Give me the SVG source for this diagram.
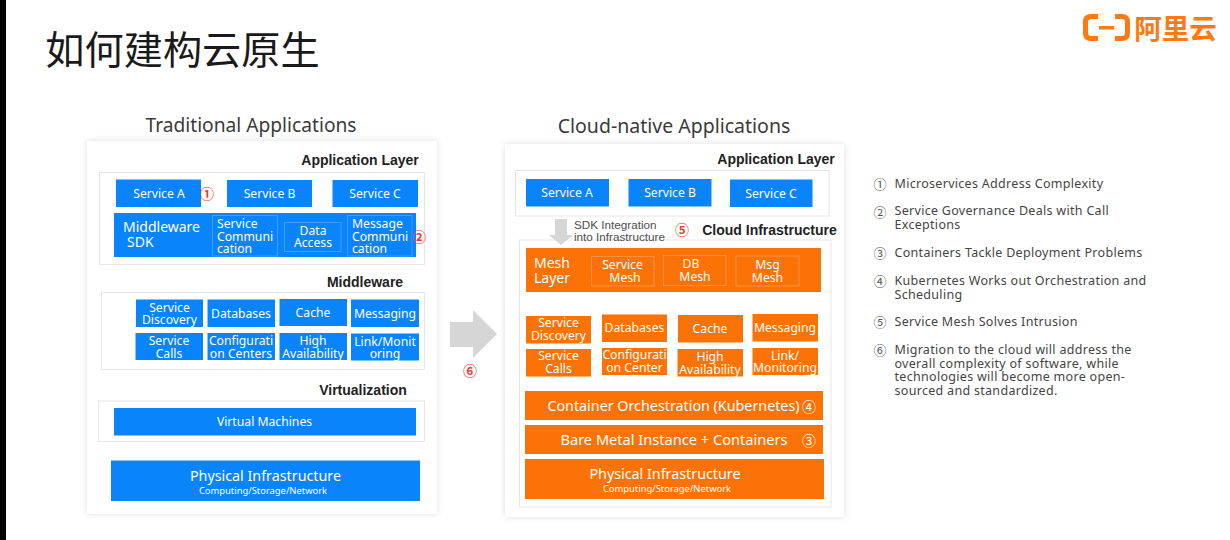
<svg xmlns="http://www.w3.org/2000/svg" width="1230" height="540" viewBox="0 0 1230 540">
<style>
text{font-family:"Noto Sans","Noto Sans CJK SC",sans-serif;text-anchor:middle;fill:#fff;font-size:12.2px}
.st{text-anchor:start}
.card{fill:#fff;filter:url(#sh)}
.frame{fill:#fff;stroke:#e6e6e6;stroke-width:1}
.b{fill:#0a84fb}
.o{fill:#fb7306}
.in{fill:none;stroke:#ffffff;stroke-opacity:.22;stroke-width:1}
.h{font-size:19.2px;fill:#3a3a3a}
.lab{font-family:"Liberation Sans",sans-serif;font-weight:700;font-size:14px;fill:#222}
.big{font-size:14px}
.wide{font-size:14.3px}
.sm{font-size:9.4px}
.sdk{text-anchor:start;fill:#4d4d4d;font-family:"Liberation Sans",sans-serif;font-size:11.7px}
.note text{text-anchor:start;font-size:12.5px;letter-spacing:.3px;fill:#444}
.note text.num{text-anchor:middle;letter-spacing:0;font-size:13px;fill:#555}
.num{font-family:"Noto Sans CJK SC",sans-serif;font-size:14px}
.red{fill:#e8412f;font-weight:700}
.arrow{fill:#d6d6d6}
.logo{fill:none;stroke:#fb7a14;stroke-width:5;stroke-linejoin:round}
</style>
<defs>
<filter id="sh" x="-5%" y="-5%" width="110%" height="110%"><feDropShadow dx="0" dy="0" stdDeviation="3" flood-color="#000" flood-opacity=".13"/></filter>
</defs>
<rect width="1230" height="540" fill="#fff"/>
<rect x="0" y="0" width="6" height="540" fill="#000"/>
<text id="title" x="182.500" y="64" style="font-family:'Noto Sans CJK SC',sans-serif;font-size:39.200px;fill:#1a1a1a">如何建构云原生</text>
<g id="logo">
<path class="logo" d="M1098 16.500H1091Q1085.500 16.500 1085.500 22V33Q1085.500 38.500 1091 38.500H1098M1115 16.500H1122Q1127.500 16.500 1127.500 22V33Q1127.500 38.500 1122 38.500H1115"/>
<rect x="1099" y="26" width="15" height="3.500" fill="#fb7a14"/>
<text x="1175.500" y="38.500" style="font-family:'Noto Sans CJK SC',sans-serif;font-size:27.500px;font-weight:700;fill:#fb7a14">阿里云</text>
</g>

<g id="traditional">
<text class="h" x="251" y="132">Traditional Applications</text>
<rect class="card" x="87" y="141" width="350" height="373"/>
<g id="t-app-layer">
<text class="lab" x="360" y="165">Application Layer</text>
<rect class="frame" x="99.500" y="172.500" width="325" height="92"/>
</g>
<g id="t-service-a"><rect class="b" x="116" y="179.500" width="85" height="27.500"/><text x="159" y="197.500">Service A</text></g>
<g id="t-service-b"><rect class="b" x="227" y="180" width="85" height="27"/><text x="269.500" y="197.500">Service B</text></g>
<g id="t-service-c"><rect class="b" x="332.500" y="180" width="85.500" height="27"/><text x="375" y="197.500">Service C</text></g>
<g id="t-sdk">
<rect class="b" x="114" y="213" width="302" height="44"/>
<text class="big st" x="123"><tspan x="123" y="232">Middleware</tspan><tspan x="127" y="247">SDK</tspan></text>
<rect class="in" x="212.500" y="215.500" width="65" height="40.500"/>
<text class="st"><tspan x="217" y="228">Service</tspan><tspan x="217" y="240.500">Communi</tspan><tspan x="217" y="253">cation</tspan></text>
<rect class="in" x="284.500" y="222.500" width="56.500" height="29"/>
<text><tspan x="313" y="234.500">Data</tspan><tspan x="313" y="247">Access</tspan></text>
<rect class="in" x="347.500" y="215.500" width="64.500" height="40.500"/>
<text class="st"><tspan x="352" y="228">Message</tspan><tspan x="352" y="240.500">Communi</tspan><tspan x="352" y="253">cation</tspan></text>
</g>
<text class="num red" x="207" y="199">①</text>
<text class="num red" x="419" y="241.500">②</text>
<g id="t-middleware">
<text class="lab" x="365" y="287">Middleware</text>
<rect class="frame" x="101.500" y="292.500" width="323" height="77"/>
</g>
<g id="t-discovery"><rect class="b" x="136" y="299.500" width="67" height="27.500"/><text><tspan x="169.500" y="311.500">Service</tspan><tspan x="169.500" y="323.500">Discovery</tspan></text></g>
<g id="t-databases"><rect class="b" x="207.500" y="299.500" width="67.500" height="27.500"/><text x="241" y="317.500">Databases</text></g>
<g id="t-cache"><rect class="b" x="279.500" y="299" width="67.500" height="27"/><text x="313" y="316.500">Cache</text></g>
<g id="t-messaging"><rect class="b" x="351" y="299.500" width="68" height="27.500"/><text x="385" y="317.500">Messaging</text></g>
<g id="t-calls"><rect class="b" x="135.500" y="333" width="67.500" height="27"/><text><tspan x="169" y="345">Service</tspan><tspan x="169" y="357.500">Calls</tspan></text></g>
<g id="t-config"><rect class="b" x="207.500" y="333" width="67.500" height="27"/><text><tspan x="241" y="345">Configurati</tspan><tspan x="241" y="357.500">on Centers</tspan></text></g>
<g id="t-ha"><rect class="b" x="279.500" y="333" width="67.500" height="27"/><text><tspan x="313" y="345">High</tspan><tspan x="313" y="357.500">Availability</tspan></text></g>
<g id="t-link"><rect class="b" x="351" y="333.500" width="68" height="27"/><text><tspan x="385" y="345.500">Link/Monit</tspan><tspan x="385" y="358">oring</tspan></text></g>
<g id="t-virtualization">
<text class="lab" x="363" y="394.500">Virtualization</text>
<rect class="frame" x="98.500" y="401" width="326" height="40.500"/>
</g>
<g id="t-vm"><rect class="b" x="114" y="408" width="302" height="27.500"/><text x="264.500" y="426">Virtual Machines</text></g>
<g id="t-physical"><rect class="b" x="111" y="460.500" width="309" height="40.500"/><text class="wide" x="265.500" y="480.500">Physical Infrastructure</text><text class="sm" x="263" y="494">Computing/Storage/Network</text></g>
</g>

<text class="num red" x="470" y="375.500">⑥</text>

<g id="cloud-native">
<text class="h" x="674" y="133" style="font-size:19.500px">Cloud-native Applications</text>
<rect class="card" x="505" y="144" width="339" height="373"/>
<g id="c-app-layer">
<text class="lab" x="776" y="163.500">Application Layer</text>
<rect class="frame" x="515.500" y="170.500" width="313.500" height="45.500"/>
</g>
<g id="c-service-a"><rect class="b" x="526" y="179" width="83" height="27.500"/><text x="567" y="197">Service A</text></g>
<g id="c-service-b"><rect class="b" x="628.500" y="179" width="83" height="27.500"/><text x="670" y="197">Service B</text></g>
<g id="c-service-c"><rect class="b" x="730" y="179.500" width="82.500" height="27.500"/><text x="771" y="197.500">Service C</text></g>
<g id="c-infra-frame">
<rect class="frame" x="519.500" y="240" width="311.500" height="267"/>
</g>
<text class="sdk"><tspan x="574" y="228.500">SDK Integration</tspan><tspan x="574" y="241">into Infrastructure</tspan></text>
<text class="num red" x="682" y="235">⑤</text>
<text class="lab" x="769.500" y="235">Cloud Infrastructure</text>
<g id="c-mesh">
<rect class="o" x="526" y="248" width="295" height="44"/>
<text class="big st"><tspan x="534" y="268">Mesh</tspan><tspan x="534" y="283">Layer</tspan></text>
<rect class="in" x="591.500" y="256.500" width="62.500" height="29.500"/><text><tspan x="622.500" y="269">Service</tspan><tspan x="625" y="281.500">Mesh</tspan></text>
<rect class="in" x="663.500" y="255.500" width="62.500" height="30"/><text><tspan x="691" y="268">DB</tspan><tspan x="695" y="280.500">Mesh</tspan></text>
<rect class="in" x="736" y="256" width="63" height="30"/><text><tspan x="767.500" y="269">Msg</tspan><tspan x="767.500" y="281.500">Mesh</tspan></text>
</g>
<g id="c-discovery"><rect class="o" x="526" y="316" width="65" height="27.500"/><text><tspan x="558.500" y="327">Service</tspan><tspan x="558.500" y="340">Discovery</tspan></text></g>
<g id="c-databases"><rect class="o" x="602" y="314.500" width="65" height="27.500"/><text x="634.500" y="332">Databases</text></g>
<g id="c-cache"><rect class="o" x="678" y="315" width="65" height="27.500"/><text x="710" y="332.500">Cache</text></g>
<g id="c-messaging"><rect class="o" x="752.500" y="314" width="65.500" height="27.500"/><text x="785" y="332">Messaging</text></g>
<g id="c-calls"><rect class="o" x="526" y="349" width="65" height="27.500"/><text><tspan x="558.500" y="360">Service</tspan><tspan x="558.500" y="373">Calls</tspan></text></g>
<g id="c-config"><rect class="o" x="602" y="348" width="65" height="27"/><text><tspan x="634.500" y="359">Configurati</tspan><tspan x="634.500" y="372">on Center</tspan></text></g>
<g id="c-ha"><rect class="o" x="677.500" y="349" width="65.500" height="27.500"/><text><tspan x="710" y="361">High</tspan><tspan x="710" y="373.500">Availability</tspan></text></g>
<g id="c-link"><rect class="o" x="752.500" y="348" width="65.500" height="27"/><text><tspan x="785" y="360">Link/</tspan><tspan x="785" y="372">Monitoring</tspan></text></g>
<g id="c-k8s"><rect class="o" x="525" y="391" width="298" height="29"/><text class="wide" x="673.500" y="411">Container Orchestration (Kubernetes)</text><text class="num" x="809" y="412">④</text></g>
<g id="c-bare"><rect class="o" x="525" y="425" width="298" height="29"/><text class="wide" x="674" y="445" style="font-size:14.600px">Bare Metal Instance + Containers</text><text class="num" x="809" y="446">③</text></g>
<g id="c-physical"><rect class="o" x="525" y="459" width="299" height="40"/><text class="wide" x="665" y="479">Physical Infrastructure</text><text class="sm" x="667" y="492">Computing/Storage/Network</text></g>
</g>

<g id="connectors">
<path class="arrow" d="M450 322H473V310L497 334 473 358V347H450Z"/>
<path class="arrow" d="M555 219H567V235H573L561 245 549 235H555Z"/>
</g>

<g id="notes" class="note">
<text class="num" x="880" y="188.500">①</text><text x="894.500" y="188">Microservices Address Complexity</text>
<text class="num" x="880" y="216.500">②</text><text><tspan x="894.500" y="215">Service Governance Deals with Call</tspan><tspan x="894.500" y="229">Exceptions</tspan></text>
<text class="num" x="880" y="258">③</text><text x="894.500" y="257">Containers Tackle Deployment Problems</text>
<text class="num" x="880" y="285.500">④</text><text><tspan x="894.500" y="285">Kubernetes Works out Orchestration and</tspan><tspan x="894.500" y="299">Scheduling</tspan></text>
<text class="num" x="880" y="327">⑤</text><text x="894.500" y="326">Service Mesh Solves Intrusion</text>
<text class="num" x="880" y="354.500">⑥</text><text><tspan x="894.500" y="354">Migration to the cloud will address the</tspan><tspan x="894.500" y="368">overall complexity of software, while</tspan><tspan x="894.500" y="381">technologies will become more open-</tspan><tspan x="894.500" y="395">sourced and standardized.</tspan></text>
</g>
</svg>
